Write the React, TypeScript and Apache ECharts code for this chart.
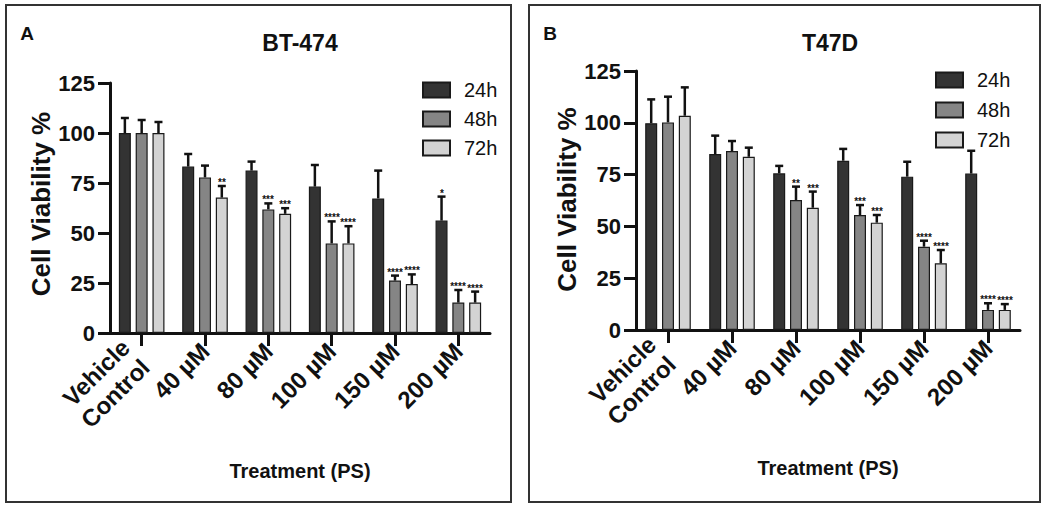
import React, { useEffect, useRef } from 'react';
import * as echarts from 'echarts';

const categories = ['Vehicle\nControl', '40 µM', '80 µM', '100 µM', '150 µM', '200 µM'];
const timepoints = ['24h', '48h', '72h'];
const yMin = 0;
const yMax = 125;
const yStep = 25;

// Panel A: BT-474 (mean, SD, significance)
const bt474Mean24 = [100, 83.2, 81.2, 73.2, 67.3, 56.2];
const bt474Mean48 = [100, 77.8, 61.8, 44.8, 26.2, 15.2];
const bt474Mean72 = [100, 67.7, 59.6, 44.8, 24.5, 15.2];
const bt474Sd24 = [7.5, 6.3, 4.5, 10.8, 13.9, 12.0];
const bt474Sd48 = [6.5, 5.9, 3.0, 11.0, 2.5, 6.3];
const bt474Sd72 = [5.5, 5.8, 2.8, 8.6, 4.8, 5.5];
const bt474Stars24 = ['', '', '', '', '', '*'];
const bt474Stars48 = ['', '', '***', '****', '****', '****'];
const bt474Stars72 = ['', '**', '***', '****', '****', '****'];

// Panel B: T47D
const t47dMean24 = [99.8, 84.9, 75.6, 81.7, 74.0, 75.5];
const t47dMean48 = [100.2, 86.4, 62.7, 55.5, 40.2, 9.7];
const t47dMean72 = [103.4, 83.6, 59.0, 51.8, 32.2, 9.7];
const t47dSd24 = [11.5, 8.9, 3.6, 5.7, 7.2, 11.0];
const t47dSd48 = [12.4, 4.8, 6.5, 4.8, 2.9, 3.2];
const t47dSd72 = [13.7, 4.4, 7.8, 3.7, 6.4, 2.8];
const t47dStars24 = ['', '', '', '', '', ''];
const t47dStars48 = ['', '', '**', '***', '****', '****'];
const t47dStars72 = ['', '', '***', '***', '****', '****'];

const FONT = "'Liberation Sans', Arial, sans-serif";
const barColors = ['#333333', '#858585', '#d3d3d3'];
const BAR_W = 12;
const BAR_GAP = 0.4;

function panelSeries(g: number, means: number[][], sds: number[][], stars: string[][]) {
  const out: any[] = [];
  means.forEach((m, k) => {
    out.push({
      type: 'bar',
      name: timepoints[k],
      xAxisIndex: g,
      yAxisIndex: g,
      data: m,
      barWidth: BAR_W,
      barGap: BAR_GAP * 100 + '%',
      itemStyle: { color: barColors[k], borderColor: '#1a1a1a', borderWidth: 1.2 },
      z: 2,
    });
  });
  means.forEach((m, k) => {
    const offset = (k - 1) * BAR_W * (1 + BAR_GAP);
    const st = stars[k];
    out.push({
      type: 'custom',
      xAxisIndex: g,
      yAxisIndex: g,
      z: 5,
      clip: false,
      itemStyle: { color: '#111111' },
      data: m.map((v, i) => [i, v, v + sds[k][i]]),
      renderItem: (params: any, api: any) => {
        const cat = api.value(0);
        const mean = api.value(1);
        const top = api.value(2);
        const base = api.coord([cat, mean]);
        const tip = api.coord([cat, top]);
        const x = base[0] + offset;
        const children: any[] = [
          { type: 'line', shape: { x1: x, y1: base[1], x2: x, y2: tip[1] }, style: { stroke: '#111', lineWidth: 2.5 } },
          { type: 'line', shape: { x1: x - 4, y1: tip[1], x2: x + 4, y2: tip[1] }, style: { stroke: '#111', lineWidth: 2.5 } },
        ];
        const s = st[params.dataIndex];
        if (s) {
          children.push({
            type: 'text',
            x: Math.round(x),
            y: Math.round(tip[1] + 1),
            style: { text: s, align: 'center', verticalAlign: 'bottom', font: `bold 10px ${FONT}`, fill: '#111111' },
          });
        }
        return { type: 'group', children };
      },
    });
  });
  return out;
}

function xAxisCfg(g: number) {
  return {
    type: 'category',
    gridIndex: g,
    data: categories.map((c, i) => (i === 0 ? { value: c, textStyle: { padding: [26, 9, 0, 0] } } : c)),
    axisLine: { show: true, lineStyle: { color: '#111', width: 3 } },
    axisTick: { show: true, alignWithLabel: true, length: 13, lineStyle: { color: '#111', width: 3 } },
    axisLabel: { rotate: 45, interval: 0, margin: 14, fontSize: 24, fontWeight: 'bold', color: '#111', fontFamily: FONT, lineHeight: 28 },
    name: 'Treatment (PS)',
    nameLocation: 'middle',
    nameGap: 128,
    nameTextStyle: { fontSize: 20, fontWeight: 'bold', color: '#111', fontFamily: FONT },
  };
}

function yAxisCfg(g: number, shift: number) {
  return {
    type: 'value',
    gridIndex: g,
    min: yMin,
    max: yMax,
    interval: yStep,
    splitLine: { show: false },
    axisLine: { show: true, lineStyle: { color: '#111', width: 3 } },
    axisTick: { show: true, length: 12, lineStyle: { color: '#111', width: 3 } },
    axisLabel: { margin: 15, fontSize: 22, fontWeight: 'bold', color: '#111', fontFamily: FONT },
    name: 'Cell Viability %',
    nameLocation: 'middle',
    nameRotate: 90,
    nameGap: 55,
    nameTextStyle: { fontSize: 26, fontWeight: 'bold', color: '#111', fontFamily: FONT, padding: [0, 0, 0, shift] },
  };
}

function legendCfg(left: number, top: number, gap: number) {
  return {
    data: timepoints,
    orient: 'vertical',
    left,
    top,
    icon: 'rect',
    itemWidth: 27,
    itemHeight: 15,
    itemGap: gap,
    padding: 0,
    selectedMode: false,
    textStyle: { fontSize: 20, color: '#111', fontFamily: FONT, lineHeight: 15, padding: [0, 0, 0, 9] },
  };
}

export default function App() {
  const ref = useRef<HTMLDivElement>(null);
  useEffect(() => {
    document.body.style.margin = '0';
    if (!ref.current) return;
    const chart = echarts.init(ref.current, undefined, { renderer: 'svg' });
    const option: any = {
      animation: false,
      backgroundColor: '#ffffff',
      textStyle: { fontFamily: FONT },
      grid: [
        { left: 110, top: 83, width: 380, height: 250 },
        { left: 636, top: 71, width: 384, height: 259 },
      ],
      xAxis: [xAxisCfg(0), xAxisCfg(1)],
      yAxis: [yAxisCfg(0, 8), yAxisCfg(1, 2)],
      legend: [legendCfg(422, 80, 9), legendCfg(935, 70, 10)],
      series: [
        ...panelSeries(0, [bt474Mean24, bt474Mean48, bt474Mean72], [bt474Sd24, bt474Sd48, bt474Sd72], [bt474Stars24, bt474Stars48, bt474Stars72]),
        ...panelSeries(1, [t47dMean24, t47dMean48, t47dMean72], [t47dSd24, t47dSd48, t47dSd72], [t47dStars24, t47dStars48, t47dStars72]),
      ],
      graphic: [
        { type: 'rect', shape: { x: 6, y: 5, width: 505, height: 497 }, style: { fill: 'none', stroke: '#333', lineWidth: 2 } },
        { type: 'rect', shape: { x: 529, y: 5, width: 511, height: 497 }, style: { fill: 'none', stroke: '#333', lineWidth: 2 } },
        { type: 'text', x: 27, y: 33, style: { text: 'A', align: 'center', verticalAlign: 'middle', font: `bold 19px ${FONT}`, fill: '#111' } },
        { type: 'text', x: 550, y: 33, style: { text: 'B', align: 'center', verticalAlign: 'middle', font: `bold 19px ${FONT}`, fill: '#111' } },
        { type: 'text', x: 300, y: 43, style: { text: 'BT-474', align: 'center', verticalAlign: 'middle', font: `bold 23px ${FONT}`, fill: '#111' } },
        { type: 'text', x: 830, y: 43, style: { text: 'T47D', align: 'center', verticalAlign: 'middle', font: `bold 23px ${FONT}`, fill: '#111' } },
      ],
    };
    chart.setOption(option);
    return () => chart.dispose();
  }, []);
  return <div ref={ref} style={{ width: 1050, height: 508 }} />;
}
